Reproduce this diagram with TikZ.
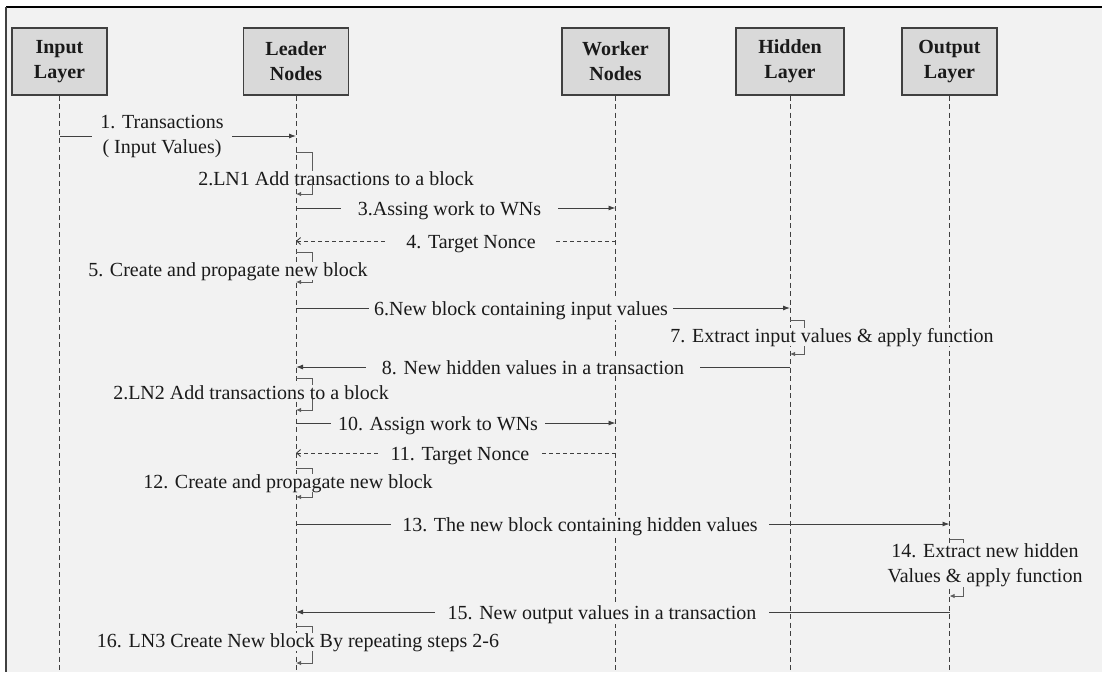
\documentclass[tikz,border=0pt]{standalone}
\usepackage{fontspec}
\setmainfont{Liberation Serif}
\usetikzlibrary{arrows.meta}
\definecolor{bg}{HTML}{F2F2F2}
\definecolor{boxfill}{HTML}{D9D9D9}
\definecolor{ink}{HTML}{404040}
\definecolor{txt}{HTML}{1A1A1A}

\begin{document}
\begin{tikzpicture}[x=1pt,y=-1pt,
  every node/.style={font=\fontsize{20}{25}\selectfont, text=txt},
  actor/.style={draw=ink, line width=1.2pt, fill=boxfill, minimum height=67pt,
    align=center, inner sep=0pt, font=\fontsize{20}{25}\selectfont\bfseries},
  lifeline/.style={draw=ink, line width=0.9pt, dash pattern=on 5pt off 3.5pt},
  msg/.style={draw=ink, line width=0.9pt, -{Latex[length=7pt,width=5pt]}},
  reply/.style={draw=ink, line width=0.9pt, dash pattern=on 4pt off 3pt,
    -{Straight Barb[length=4pt,width=7pt]}},
  selfmsg/.style={draw=ink!85, line width=0.9pt, -{Latex[length=5pt,width=4.5pt]}},
  tag/.style={fill=bg, inner ysep=1pt, anchor=base},
  note/.style={fill=bg, inner xsep=1pt, inner ysep=0pt, anchor=base},
]
% canvas and frame
\useasboundingbox (0,0) rectangle (1102,672);
\fill[white] (0,0) rectangle (1102,672);
\fill[bg] (6,7) rectangle (1102,672);
\draw[black, line width=1.2pt] (6,7) -- (1102,7);
\draw[ink, line width=1.2pt] (6,7) -- (6,672);

% participants
\node[actor, minimum width=95pt]  (in)  at (59.5,61.5)  {Input\\Layer};
\node[actor, minimum width=105pt] (ld)  at (296,61.5)   {Leader\\Nodes};
\node[actor, minimum width=107pt] (wk)  at (615.5,61.5) {Worker\\Nodes};
\node[actor, minimum width=108pt] (hd)  at (790,61.5)   {Hidden\\Layer};
\node[actor, minimum width=95pt]  (out) at (949.5,61.5) {Output\\Layer};

% lifelines
\foreach \n in {in,ld,wk,hd,out}{
  \coordinate (\n-end) at (\n.south |- 0,672);
  \draw[lifeline] (\n.south) -- (\n-end);
}

% 1
\draw[msg] (in.center |- 0,136) -- (ld.center |- 0,136);
\node[tag, anchor=center, inner xsep=8pt, align=center] at (162,137) {1. Transactions\\( Input Values)};
% 2
\draw[selfmsg] (ld.center |- 0,152) -- ++(16,0) |- (ld.center |- 0,194);
\node[note] at (336,185) {2.LN1 Add transactions to a block};
% 3
\draw[msg] (ld.center |- 0,208) -- (wk.center |- 0,208);
\node[tag, inner xsep=17pt] at (449.5,215) {3.Assing work to WNs};
% 4
\draw[reply] (wk.center |- 0,241) -- (ld.center |- 0,241);
\node[tag, inner xsep=18pt] at (471,248) {4. Target Nonce};
% 5
\draw[selfmsg] (ld.center |- 0,252) -- ++(16,0) |- (ld.center |- 0,282);
\node[note] at (228,276) {5. Create and propagate new block};
% 6
\draw[msg] (ld.center |- 0,308) -- (hd.center |- 0,308);
\node[tag, inner xsep=5pt] at (521,315) {6.New block containing input values};
% 7
\draw[selfmsg] (hd.center |- 0,320) -- ++(14,0) |- (hd.center |- 0,354);
\node[note] at (832,342) {7. Extract input values \& apply function};
% 8
\draw[msg] (hd.center |- 0,367) -- (ld.center |- 0,367);
\node[tag, inner xsep=16pt] at (533,374) {8. New hidden values in a transaction};
% 9
\draw[selfmsg] (ld.center |- 0,378) -- ++(16,0) |- (ld.center |- 0,410);
\node[note] at (251,399) {2.LN2 Add transactions to a block};
% 10
\draw[msg] (ld.center |- 0,423) -- (wk.center |- 0,423);
\node[tag, inner xsep=7pt] at (438,430) {10. Assign work to WNs};
% 11
\draw[reply] (wk.center |- 0,453) -- (ld.center |- 0,453);
\node[tag, inner xsep=12pt] at (460,460) {11. Target Nonce};
% 12
\draw[selfmsg] (ld.center |- 0,468) -- ++(16,0) |- (ld.center |- 0,497);
\node[note] at (288,488) {12. Create and propagate new block};
% 13
\draw[msg] (ld.center |- 0,524) -- (out.center |- 0,524);
\node[tag, inner xsep=11pt] at (580,531) {13. The new block containing hidden values};
% 14
\draw[selfmsg] (out.center |- 0,539) -- ++(14,0) |- (out.center |- 0,596);
\node[note, anchor=center, align=center] at (985,565) {14. Extract new hidden\\Values \& apply function};
% 15
\draw[msg] (out.center |- 0,612) -- (ld.center |- 0,612);
\node[tag, inner xsep=13pt] at (602,619) {15. New output values in a transaction};
% 16
\draw[selfmsg] (ld.center |- 0,626) -- ++(16,0) |- (ld.center |- 0,663);
\node[note] at (298,647) {16. LN3 Create New block By repeating steps 2-6};
\end{tikzpicture}
\end{document}
